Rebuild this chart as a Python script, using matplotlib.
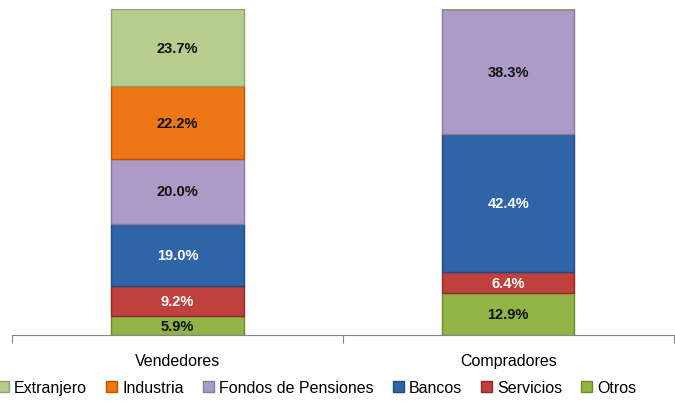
import numpy as np
import matplotlib
matplotlib.use('Agg')
import matplotlib.pyplot as plt
from matplotlib.patches import Patch

plt.rcParams['font.family'] = ['Liberation Sans Narrow', 'Liberation Sans', 'DejaVu Sans']

categories = ['Vendedores', 'Compradores']
series = ['Otros', 'Servicios', 'Bancos', 'Fondos de Pensiones', 'Industria', 'Extranjero']
values = {
    'Otros': [5.9, 12.9],
    'Servicios': [9.2, 6.4],
    'Bancos': [19.0, 42.4],
    'Fondos de Pensiones': [20.0, 38.3],
    'Industria': [22.2, 0.0],
    'Extranjero': [23.7, 0.0],
}
colors = {
    'Otros': '#92b345',
    'Servicios': '#c0403d',
    'Bancos': '#2f65a8',
    'Fondos de Pensiones': '#ab9bc6',
    'Industria': '#ee7614',
    'Extranjero': '#b6cd8e',
}
edges = {
    'Otros': '#6f8a2e',
    'Servicios': '#8e2a28',
    'Bancos': '#1f4a80',
    'Fondos de Pensiones': '#867a9e',
    'Industria': '#b85708',
    'Extranjero': '#8ea36b',
}
label_colors = {
    'Otros': '#111111',
    'Servicios': 'white',
    'Bancos': 'white',
    'Fondos de Pensiones': '#111111',
    'Industria': '#111111',
    'Extranjero': '#111111',
}

fig = plt.figure(figsize=(6.75, 4.06), dpi=100)
ax = fig.add_axes([0.018, 0.172, 0.98, 0.803])

x = np.arange(len(categories))
bottom = np.zeros(len(categories))
for s in series:
    v = np.array(values[s])
    ax.bar(x, v, width=0.4, bottom=bottom, color=colors[s], edgecolor=edges[s],
           linewidth=1.0, zorder=3)
    for xi, vi, bi in zip(x, v, bottom):
        if vi > 0:
            ax.text(xi, bi + vi / 2, f'{vi:.1f}%', ha='center', va='center',
                    fontsize=10.5, fontweight='bold', color=label_colors[s], zorder=4)
    bottom += v

ax.set_xlim(-0.5, 1.5)
ax.set_ylim(0, 100)
ax.set_yticks([])
for sp in ['top', 'right', 'left']:
    ax.spines[sp].set_visible(False)
ax.spines['bottom'].set_color('#868686')
ax.set_xticks([-0.5, 0.5, 1.5])
ax.set_xticklabels([])
ax.tick_params(axis='x', length=6, color='#868686', direction='out')
for xi, c in zip(x, categories):
    ax.text(xi, -5.5, c, ha='center', va='top', fontsize=11.5,
            transform=ax.transData)

handles = [Patch(facecolor=colors[s], edgecolor=edges[s]) for s in reversed(series)]
fig.legend(handles, list(reversed(series)), loc='lower center', ncol=6,
           bbox_to_anchor=(0.47, -0.01), frameon=False, fontsize=11.5,
           handlelength=0.7, handleheight=0.7, handletextpad=0.3, columnspacing=1.2)

fig.savefig('out.png', dpi=100)
